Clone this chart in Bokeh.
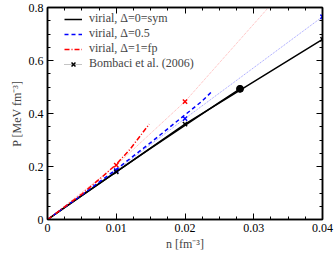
from bokeh.plotting import figure
from bokeh.models import Range1d, FixedTicker, LinearAxis, Legend, LegendItem
from bokeh.embed import file_html
from bokeh.resources import INLINE

# virial curves
n_sym = [0.0, 0.005, 0.01, 0.015, 0.02, 0.025, 0.028]
p_sym = [0.0, 0.091, 0.180, 0.268, 0.355, 0.442, 0.493]
n_half = [0.0, 0.005, 0.01, 0.015, 0.02, 0.0224, 0.024]
p_half = [0.0, 0.093, 0.189, 0.290, 0.395, 0.445, 0.485]
n_fp = [0.0, 0.005, 0.008, 0.01, 0.012, 0.0148]
p_fp = [0.0, 0.096, 0.162, 0.208, 0.265, 0.360]
# marked point on sym curve
n_dot = [0.028]
p_dot = [0.493]
# Bombaci et al. (2006)
n_bomb = [0.0, 0.01, 0.02, 0.04]
p_bomb_sym = [0.0, 0.180, 0.360, 0.680]
p_bomb_half = [0.0, 0.185, 0.381, 0.765]
p_bomb_fp = [0.0, 0.205, 0.445, 1.03]

x_ticks = [0.0, 0.01, 0.02, 0.03, 0.04]
x_labels = ["0", "0.01", "0.02", "0.03", "0.04"]
y_ticks = [0.0, 0.2, 0.4, 0.6, 0.8]
y_labels = ["0", "0.2", "0.4", "0.6", "0.8"]

FONT = "Liberation Serif"

p = figure(width=334, height=256, output_backend="svg", toolbar_location=None,
           x_range=Range1d(0, 0.04), y_range=Range1d(0, 0.8),
           min_border_left=47, min_border_right=12, min_border_top=7, min_border_bottom=37)
p.xgrid.visible = False
p.ygrid.visible = False
p.outline_line_color = "black"
p.outline_line_width = 1.5
p.background_fill_color = "white"
p.border_fill_color = "white"

xminor = [i * 0.0025 for i in range(17)]
yminor = [i * 0.05 for i in range(17)]

def style_axis(ax, ticks, labels, minor, show_labels=True):
    ax.ticker = FixedTicker(ticks=ticks, minor_ticks=minor)
    ax.axis_line_color = "black"
    ax.axis_line_width = 1.5
    ax.major_tick_in = 6
    ax.major_tick_out = 0
    ax.minor_tick_in = 3
    ax.minor_tick_out = 0
    ax.major_tick_line_color = "black"
    ax.minor_tick_line_color = "black"
    if show_labels:
        ax.major_label_overrides = {t: l for t, l in zip(ticks, labels)}
        ax.major_label_text_font = FONT
        ax.major_label_text_font_size = "12px"
        ax.major_label_text_color = "black"
        ax.major_label_standoff = 4
    else:
        ax.major_label_text_color = None
        ax.major_label_standoff = 0

style_axis(p.xaxis[0], x_ticks, x_labels, xminor)
style_axis(p.yaxis[0], y_ticks, y_labels, yminor)
p.xaxis[0].axis_label = "n [fm⁻³]"
p.yaxis[0].axis_label = "P [MeV fm⁻³]"
for ax in (p.xaxis[0], p.yaxis[0]):
    ax.axis_label_text_font = FONT
    ax.axis_label_text_font_style = "normal"
    ax.axis_label_text_font_size = "12px"
    ax.axis_label_standoff = 2

top = LinearAxis()
style_axis(top, x_ticks, x_labels, xminor, show_labels=False)
p.add_layout(top, "above")
right = LinearAxis()
style_axis(right, y_ticks, y_labels, yminor, show_labels=False)
p.add_layout(right, "right")

# Bombaci lines
p.line(n_bomb, p_bomb_fp, line_color="#ff9999", line_width=0.8, line_dash="1 1")
p.line(n_bomb, p_bomb_half, line_color="#8080ff", line_width=0.8, line_dash="1 1")
p.line(n_bomb, p_bomb_sym, line_color="black", line_width=1.5)
p.scatter(n_bomb[1:], p_bomb_fp[1:], marker="x", size=6, line_color="red", line_width=1.5)
p.scatter(n_bomb[1:], p_bomb_half[1:], marker="x", size=6, line_color="blue", line_width=1.5)
p.scatter(n_bomb[1:], p_bomb_sym[1:], marker="x", size=6, line_color="black", line_width=1.5)

# virial lines
r_sym = p.line(n_sym, p_sym, line_color="black", line_width=1.5)
r_half = p.line(n_half, p_half, line_color="blue", line_width=1.5, line_dash="4 3")
r_fp = p.line(n_fp, p_fp, line_color="red", line_width=1.5, line_dash="5 2 1 2")
p.scatter(n_dot, p_dot, marker="circle", size=7, fill_color="black", line_color="black")

# legend-only renderers (no visible data)
nan = float("nan")
lg_b = p.line([nan], [nan], line_color="#888888", line_width=1, line_dash="1 1")
lg_bx = p.scatter([nan], [nan], marker="x", size=5, line_color="black", line_width=1.5)

legend = Legend(items=[
    LegendItem(label="virial, Δ=0=sym", renderers=[r_sym]),
    LegendItem(label="virial, Δ=0.5", renderers=[r_half]),
    LegendItem(label="virial, Δ=1=fp", renderers=[r_fp]),
    LegendItem(label="Bombaci et al. (2006)", renderers=[lg_b, lg_bx]),
], location=(17, 148))
legend.background_fill_alpha = 0
legend.border_line_color = None
legend.label_text_font = FONT
legend.label_text_font_size = "12px"
legend.label_height = 14
legend.glyph_height = 14
legend.glyph_width = 18
legend.label_standoff = 7
legend.spacing = 0
legend.margin = 0
legend.padding = 0
p.add_layout(legend, "center")

open("out.html", "w").write(file_html(p, INLINE))
